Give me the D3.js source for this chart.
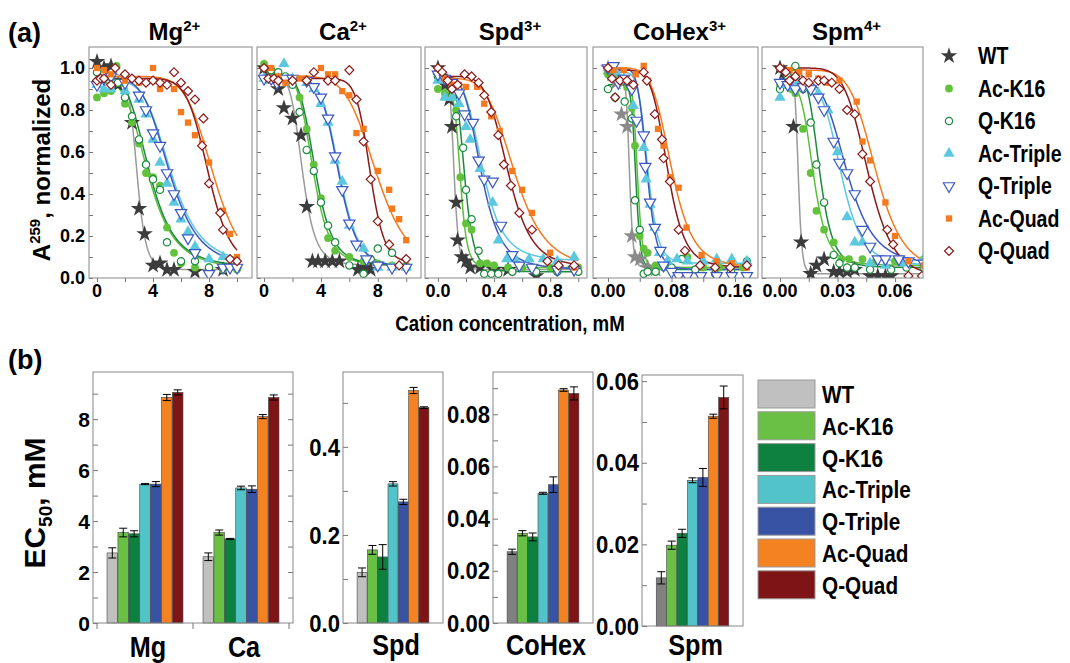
<!DOCTYPE html>
<html>
<head>
<meta charset="utf-8">
<script src="https://cdn.jsdelivr.net/npm/d3@7"></script>
<style>
  body { margin: 0; background: #fff; }
  svg { display: block; }
  text { font-family: "Liberation Sans", Arial, sans-serif; font-weight: bold; fill: #000; }
</style>
</head>
<body>
<svg id="chart" width="1070" height="663"></svg>
<script>
// ---- shared series info ----
const series = ['WT', 'Ac-K16', 'Q-K16', 'Ac-Triple', 'Q-Triple', 'Ac-Quad', 'Q-Quad'];
const lineColors = ['#9a9a9a', '#5cbf3a', '#1a8a3c', '#5cc8e0', '#3a58c0', '#f47a20', '#8b1a1a'];
const markColors = ['#3c3c3c', '#62c23c', '#1a8a3c', '#5cc8e0', '#3a58c0', '#f47a20', '#8b1a1a'];
const barColors = ['#c0c0c0', '#6abf45', '#0e8040', '#52c3c9', '#3953a4', '#f58220', '#7f1416'];

// ---- panel (a): titration curves ----
const aCations = ['Mg', 'Ca', 'Spd', 'CoHex', 'Spm'];
const aCharges = ['2+', '2+', '3+', '3+', '4+'];
const aXTicks = [[0, 4, 8], [0, 4, 8], [0, 0.4, 0.8], [0, 0.08, 0.16], [0, 0.03, 0.06]];
const aXMinor = [2, 2, 0.2, 0.04, 0.015];
const aXFormat = ['d', 'd', '.1f', '.2f', '.2f'];
const aCurveEnd = [10, 10, 1.0, 0.175, 0.075];
const aYTicks = [0, 0.2, 0.4, 0.6, 0.8, 1.0];
const starColors = ['#3c3c3c', '#3c3c3c', '#3c3c3c', '#8a8a8a', '#3c3c3c'];

const mgPts = [
  [[0,1.03],[0.5,1.0],[1,1.01],[1.5,0.92],[2.5,0.74],[3,0.33],[3.4,0.21],[4,0.06],[4.5,0.07],[5,0.04],[5.5,0.04],[7,0.03],[9,0.04]],
  [[0,0.86],[0.5,0.88],[1,0.89],[1.4,1.01],[2,0.83],[2.5,0.74],[3,0.64],[3.5,0.5],[4,0.48],[4.5,0.44],[5,0.24],[5.5,0.12],[6,0.07],[7,0.05],[8,0.05],[9,0.04],[10,0.04]],
  [[0,0.98],[0.5,0.97],[1,0.96],[1.5,0.93],[2,0.86],[2.5,0.77],[3,0.66],[3.5,0.54],[4,0.47],[4.5,0.42],[5,0.17],[6,0.08],[7,0.08],[8,0.05],[9,0.05],[10,0.05]],
  [[0,0.92],[0.5,0.9],[1,0.9],[2,0.89],[3,0.85],[3.5,0.78],[4,0.66],[4.5,0.55],[5,0.45],[5.5,0.36],[6,0.28],[6.5,0.22],[7,0.15],[8,0.09],[9,0.1],[10,0.06]],
  [[0,0.92],[0.5,0.95],[1,0.96],[2,0.93],[3,0.87],[3.5,0.8],[4,0.69],[4.5,0.63],[5,0.5],[5.5,0.4],[6,0.31],[6.5,0.19],[7,0.12],[8,0.02],[9,0.05],[9.5,0.05],[10,0.05]],
  [[0,1.0],[0.5,0.99],[1,0.97],[2,0.94],[3,0.93],[4,1.0],[4.5,0.9],[5.5,0.9],[6,0.79],[6.5,0.74],[7,0.68],[7.5,0.64],[8,0.55],[9,0.32],[9.5,0.21],[10,0.1]],
  [[0,0.94],[0.25,0.95],[0.5,0.95],[1,0.92],[1.3,1.0],[2,0.97],[2.5,0.95],[3,0.94],[3.5,0.93],[4,0.94],[4.5,0.93],[5,0.92],[5.5,0.98],[6,0.93],[6.5,0.89],[7,0.85],[7.6,0.76],[7.5,0.63],[8,0.45],[8.8,0.31],[9,0.23],[9.5,0.09],[10,0.08]]
];
const caPts = [
  [[0,1.0],[0.5,0.97],[1,0.9],[1.4,0.81],[2,0.76],[2.6,0.68],[3,0.34],[3.4,0.08],[3.8,0.08],[4.3,0.08],[4.8,0.08],[5.3,0.08],[6.6,0.04],[7,0.05],[7.5,0.04]],
  [[0,1.02],[0.5,0.98],[1,0.96],[2,0.93],[2.5,0.86],[3,0.71],[3.5,0.54],[4,0.38],[4.5,0.19],[5,0.13],[6,0.1],[7,0.08],[8,0.07],[9,0.06],[10,0.06]],
  [[0,1.0],[0.5,0.99],[1,0.98],[1.5,0.96],[2,0.92],[2.5,0.79],[3,0.61],[3.5,0.51],[4,0.36],[4.5,0.25],[5,0.17],[6,0.06],[7,0.02],[7.5,0.09],[8,0.14],[9,0.12],[10,0.05]],
  [[0,0.95],[0.3,0.94],[1,0.95],[1.4,1.02],[2,0.95],[3,0.93],[3.5,0.9],[4,0.83],[4.5,0.74],[5,0.56],[5.5,0.46],[6,0.25],[7,0.14],[8,0.05],[9,0.05],[10,0.05]],
  [[0,0.95],[0.5,0.95],[0.9,0.93],[1.5,0.95],[2,0.95],[3,0.94],[3.5,0.91],[4,0.86],[4.5,0.76],[5,0.58],[5.5,0.42],[6,0.26],[6.5,0.16],[7.2,0.09],[8,0.06],[9,0.05],[10,0.05]],
  [[0,1.0],[0.5,1.0],[1,0.96],[1.5,0.93],[2.5,0.95],[3,0.95],[4,1.0],[4.5,0.97],[5,0.97],[5.5,0.89],[6,0.87],[6.5,0.69],[7,0.71],[8,0.51],[8.8,0.42],[9,0.33],[9.5,0.28],[10,0.18]],
  [[0,1.0],[0.3,0.95],[0.7,0.95],[1,0.94],[2,0.94],[3,0.94],[3.5,0.98],[4.5,0.94],[5,0.94],[6,0.99],[6.5,0.85],[7,0.65],[7.5,0.47],[8,0.27],[8.8,0.16],[9.5,0.06],[10,0.09]]
];
const spdPts = [
  [[0,1.0],[0.02,0.96],[0.05,0.92],[0.08,0.85],[0.1,0.72],[0.13,0.36],[0.14,0.18],[0.17,0.1],[0.2,0.08],[0.23,0.05],[0.3,0.05],[0.4,0.04],[0.5,0.04],[0.7,0.01]],
  [[0,0.9],[0.05,0.88],[0.1,0.86],[0.13,0.8],[0.16,0.48],[0.2,0.26],[0.24,0.23],[0.3,0.07],[0.35,0.07],[0.4,0.06],[0.5,0.05],[0.6,0.05],[0.8,0.05],[1.0,0.05]],
  [[0,0.96],[0.05,0.94],[0.1,0.9],[0.13,0.77],[0.18,0.62],[0.2,0.42],[0.24,0.28],[0.29,0.13],[0.33,0.02],[0.38,0.02],[0.43,0.02],[0.53,0.03],[0.7,0.03],[0.85,0.03],[1.0,0.03]],
  [[0,0.94],[0.05,0.86],[0.1,0.86],[0.15,0.83],[0.2,0.72],[0.23,0.66],[0.3,0.52],[0.39,0.36],[0.43,0.18],[0.49,0.09],[0.55,0.09],[0.65,0.09],[0.75,0.09],[0.85,0.08],[0.97,0.1]],
  [[0,0.97],[0.05,0.95],[0.1,0.93],[0.15,0.88],[0.19,0.78],[0.25,0.74],[0.29,0.56],[0.33,0.47],[0.39,0.46],[0.45,0.25],[0.53,0.11],[0.58,0.06],[0.67,0.05],[0.85,0.04],[0.97,0.04]],
  [[0,1.0],[0.05,0.95],[0.1,0.92],[0.15,0.92],[0.2,0.91],[0.28,0.91],[0.33,0.83],[0.38,0.77],[0.44,0.7],[0.53,0.51],[0.6,0.42],[0.67,0.31],[0.8,0.12],[0.86,0.06],[0.97,0.05]],
  [[0,1.0],[0.03,0.98],[0.07,0.94],[0.1,0.9],[0.14,0.92],[0.19,0.97],[0.24,0.96],[0.29,0.93],[0.33,0.87],[0.38,0.79],[0.43,0.68],[0.47,0.54],[0.52,0.44],[0.58,0.31],[0.67,0.23],[0.78,0.08],[0.86,0.06],[0.97,0.06]]
];
const cohexPts = [
  [[0,1.0],[0.005,0.97],[0.01,0.93],[0.017,0.78],[0.024,0.72],[0.03,0.2],[0.034,0.1],[0.04,0.09],[0.05,0.05],[0.06,0.04]],
  [[0,0.97],[0.01,0.95],[0.015,0.93],[0.024,0.91],[0.03,0.81],[0.034,0.63],[0.04,0.2],[0.045,0.14],[0.05,0.12],[0.06,0.06],[0.07,0.05],[0.08,0.05],[0.1,0.1],[0.12,0.05],[0.14,0.05],[0.17,0.05]],
  [[0,0.9],[0.009,0.86],[0.021,0.84],[0.03,0.76],[0.034,0.37],[0.04,0.23],[0.045,0.02],[0.05,0.03],[0.06,0.03],[0.08,0.05],[0.093,0.09],[0.11,0.04],[0.135,0.02],[0.155,0.03],[0.175,0.08]],
  [[0,1.0],[0.01,0.98],[0.02,0.95],[0.032,0.82],[0.045,0.62],[0.048,0.47],[0.053,0.35],[0.059,0.24],[0.065,0.12],[0.075,0.08],[0.087,0.09],[0.1,0.08],[0.12,0.08],[0.137,0.09],[0.156,0.09],[0.175,0.08]],
  [[0,1.0],[0.007,1.01],[0.013,0.93],[0.02,0.95],[0.03,0.9],[0.036,0.75],[0.045,0.68],[0.047,0.53],[0.053,0.36],[0.059,0.24],[0.066,0.13],[0.07,0.06],[0.08,0.03],[0.089,0.01],[0.1,0.01],[0.117,0.01],[0.137,0.01],[0.156,0.01],[0.175,0.01]],
  [[0,1.0],[0.007,0.99],[0.02,0.99],[0.035,0.97],[0.045,1.01],[0.05,0.94],[0.063,0.71],[0.07,0.63],[0.078,0.48],[0.089,0.43],[0.099,0.24],[0.118,0.11],[0.137,0.08],[0.156,0.07],[0.175,0.05]],
  [[0,1.0],[0.005,0.95],[0.009,0.86],[0.015,0.94],[0.024,0.94],[0.032,0.92],[0.045,0.98],[0.049,0.94],[0.059,0.78],[0.068,0.66],[0.07,0.57],[0.078,0.46],[0.089,0.23],[0.097,0.13],[0.116,0.06],[0.135,0.05],[0.154,0.05],[0.175,0.06]]
];
const spmPts = [
  [[0,1.0],[0.002,0.98],[0.004,0.95],[0.007,0.72],[0.011,0.17],[0.016,0.02],[0.019,0.06],[0.023,0.09],[0.028,0.03],[0.031,0.03],[0.035,0.03],[0.039,0.04],[0.047,0.01],[0.051,0.01],[0.055,0.01],[0.058,0.01]],
  [[0,0.92],[0.003,0.92],[0.006,0.9],[0.008,0.88],[0.012,0.71],[0.016,0.5],[0.019,0.32],[0.023,0.23],[0.028,0.17],[0.032,0.09],[0.036,0.09],[0.043,0.09],[0.05,0.08],[0.06,0.08],[0.075,0.09]],
  [[0,0.9],[0.004,0.96],[0.008,1.01],[0.012,0.9],[0.016,0.74],[0.019,0.54],[0.023,0.36],[0.028,0.11],[0.031,0.07],[0.035,0.05],[0.039,0.05],[0.047,0.04],[0.058,0.04],[0.066,0.05],[0.075,0.05]],
  [[0,0.86],[0.003,0.92],[0.006,0.91],[0.01,0.93],[0.015,0.91],[0.02,0.88],[0.025,0.8],[0.03,0.6],[0.035,0.29],[0.039,0.17],[0.043,0.17],[0.047,0.07],[0.055,0.06],[0.065,0.07],[0.075,0.09]],
  [[0,0.93],[0.004,0.92],[0.008,0.9],[0.012,0.91],[0.016,0.9],[0.02,0.86],[0.023,0.8],[0.028,0.65],[0.031,0.55],[0.035,0.5],[0.039,0.4],[0.043,0.23],[0.047,0.15],[0.051,0.09],[0.055,0.09],[0.062,0.09],[0.067,0.08],[0.075,0.07]],
  [[0,1.0],[0.005,0.99],[0.01,0.98],[0.015,0.97],[0.02,0.95],[0.025,0.93],[0.031,0.94],[0.04,0.84],[0.043,0.65],[0.047,0.56],[0.055,0.36],[0.06,0.2],[0.067,0.08],[0.075,0.06]],
  [[0,1.0],[0.003,0.98],[0.005,0.94],[0.008,0.96],[0.012,0.94],[0.015,0.93],[0.02,0.94],[0.023,0.94],[0.027,0.93],[0.031,0.9],[0.035,0.8],[0.039,0.78],[0.043,0.59],[0.047,0.46],[0.056,0.23],[0.059,0.16],[0.067,0.01],[0.074,0.01]]
];

// fitted Hill curves: [top, bottom, midpoint, steepness]
const mgFit = [[0.97,0.04,2.85,9],[0.93,0.04,3.7,4],[0.96,0.05,3.75,4.2],[0.94,0.06,5.3,5],[0.95,0.05,5.2,5],[0.96,0.03,8.3,8],[0.95,0.05,7.95,10]];
const caFit = [[0.96,0.06,2.7,6],[0.97,0.06,3.45,6],[0.97,0.06,3.6,6],[0.95,0.05,5.3,8],[0.95,0.05,5.25,8],[0.96,0.04,7.9,7],[0.95,0.07,7.45,15]];
const spdFit = [[0.97,0.04,0.115,7],[0.9,0.05,0.16,7],[0.95,0.03,0.19,6],[0.95,0.08,0.32,4.5],[0.96,0.04,0.31,4.5],[0.95,0.04,0.55,5],[0.96,0.05,0.5,6]];
const cohexFit = [[0.97,0.05,0.027,12],[0.95,0.05,0.037,12],[0.92,0.04,0.035,12],[0.98,0.07,0.05,8],[1.0,0.04,0.049,8],[1.0,0.05,0.08,6],[0.99,0.05,0.075,7]];
const spmFit = [[0.98,0.02,0.0095,10],[0.92,0.06,0.0175,5],[0.99,0.05,0.0205,6],[0.93,0.06,0.032,6],[0.95,0.06,0.035,5],[0.99,0.03,0.05,7],[1.0,0.0,0.046,7]];

// ---- panel (b): EC50 bars ----
const bGroups = [['Mg', 'Ca'], ['Spd'], ['CoHex'], ['Spm']];
const mgEC = [2.75, 3.55, 3.5, 5.45, 5.45, 8.85, 9.05];
const mgErr = [0.2, 0.17, 0.12, 0.02, 0.1, 0.12, 0.1];
const caEC = [2.6, 3.55, 3.3, 5.3, 5.25, 8.1, 8.85];
const caErr = [0.15, 0.1, 0.02, 0.07, 0.13, 0.08, 0.1];
const spdEC = [0.115, 0.166, 0.15, 0.316, 0.275, 0.528, 0.489];
const spdErr = [0.01, 0.01, 0.028, 0.005, 0.006, 0.007, 0.002];
const cohexEC = [0.0273, 0.0344, 0.033, 0.0497, 0.053, 0.0893, 0.088];
const cohexErr = [0.001, 0.001, 0.0015, 0.0004, 0.003, 0.0005, 0.0025];
const spmEC = [0.0118, 0.0198, 0.0227, 0.0357, 0.0364, 0.0514, 0.056];
const spmErr = [0.0015, 0.001, 0.001, 0.0006, 0.0022, 0.0005, 0.0028];
const bWTColors = ['#c0c0c0', '#c0c0c0', '#808080', '#808080'];
const bYMax = [9.85, 0.57, 0.0962, 0.0615];
const bYStep = [1, 0.1, 0.01, 0.01];
const bYFormat = ['d', '.1f', '.2f', '.2f'];

const svg = d3.select('#chart');

// the original lettering is a condensed bold face: squeeze it horizontally
const sq = k => ` scale(${k},1)`;

// symbol setup (same order as series)
const symTypes = [d3.symbolStar, d3.symbolCircle, d3.symbolCircle, d3.symbolTriangle, d3.symbolTriangle, d3.symbolSquare, d3.symbolSquare];
const symRot = [0, 0, 0, 0, 180, 0, 45];
const symFilled = [true, true, false, true, false, true, false];
const symSize = [85, 48, 42, 55, 55, 40, 40];

function drawMarker(sel, i, color) {
  sel.attr('d', d3.symbol().type(symTypes[i]).size(symSize[i]))
    .attr('fill', symFilled[i] ? color : '#fff')
    .attr('stroke', symFilled[i] ? 'none' : color)
    .attr('stroke-width', 1.2);
}

/**
 * Panel (a)
 */
const aFrames = [[89, 252], [257, 421], [425, 587], [593, 758], [762, 923]];
const aDomains = [[-0.571, 11.07], [-0.496, 11.04], [-0.092, 1.062], [-0.0189, 0.189], [-0.0094, 0.0746]];
const aPoints = [mgPts, caPts, spdPts, cohexPts, spmPts];
const aFits = [mgFit, caFit, spdFit, cohexFit, spmFit];
const yA = d3.scaleLinear().domain([0, 1.1]).range([278, 47]);

aCations.forEach((cat, p) => {
  const [x0, x1] = aFrames[p];
  const x = d3.scaleLinear().domain(aDomains[p]).range([x0, x1]);
  const g = svg.append('g').attr('class', 'panel-a');

  svg.append('clipPath').attr('id', `clipA${p}`)
    .append('rect').attr('x', x0).attr('y', yA(1.1)).attr('width', x1 - x0).attr('height', yA(0) - yA(1.1));

  // inward y ticks every 0.1
  g.append('g').attr('transform', `translate(${x0},0)`)
    .call(d3.axisLeft(yA).tickValues(d3.range(0, 11).map(k => k / 10)).tickSize(-4).tickFormat(''))
    .call(s => s.select('.domain').remove())
    .call(s => s.selectAll('line').attr('stroke', '#777'));

  if (p === 0) {
    g.append('g').selectAll('text').data(aYTicks).join('text')
      .attr('x', x0 - 4).attr('y', d => yA(d)).attr('dy', '0.36em')
      .attr('text-anchor', 'end').attr('font-size', 18)
      .text(d => d3.format('.1f')(d));
  }

  // x ticks
  const step = aXMinor[p];
  const minor = d3.range(0, Math.floor(aDomains[p][1] / step + 1e-6) + 1).map(k => k * step);
  g.append('g').attr('transform', `translate(0,${yA(0)})`)
    .call(d3.axisBottom(x).tickValues(minor).tickSize(4).tickFormat(''))
    .call(s => s.select('.domain').remove())
    .call(s => s.selectAll('line').attr('stroke', '#777'));
  g.append('g').selectAll('text').data(aXTicks[p]).join('text')
    .attr('x', d => x(d)).attr('y', 297)
    .attr('text-anchor', 'middle').attr('font-size', 18)
    .text(d => d3.format(aXFormat[p])(d));

  // title
  const t = g.append('text').attr('x', (x0 + x1) / 2 + 4).attr('y', 40)
    .attr('text-anchor', 'middle').attr('font-size', 24).text(cat);
  t.append('tspan').attr('dy', -9).attr('font-size', 15).text(aCharges[p]);

  // fitted curves
  const plot = g.append('g').attr('clip-path', `url(#clipA${p})`);
  const line = d3.line().x(d => x(d[0])).y(d => yA(d[1]));
  aFits[p].forEach((f, i) => {
    const [top, bot, mid, n] = f;
    const xs = d3.range(0, 201).map(k => aCurveEnd[p] * k / 200);
    const pts = xs.map(v => [v, bot + (top - bot) / (1 + Math.pow(v / mid, n))]);
    plot.append('path').datum(pts)
      .attr('d', line).attr('fill', 'none')
      .attr('stroke', lineColors[i]).attr('stroke-width', 1.5);
  });

  // data points
  aPoints[p].forEach((pts, i) => {
    const col = i === 0 ? starColors[p] : markColors[i];
    plot.append('g').selectAll('path').data(pts).join('path')
      .attr('transform', d => `translate(${x(d[0])},${yA(d[1])}) rotate(${symRot[i]})`)
      .call(s => drawMarker(s, i, col));
  });

  // frame
  g.append('rect').attr('x', x0).attr('y', yA(1.1))
    .attr('width', x1 - x0).attr('height', yA(0) - yA(1.1))
    .attr('fill', 'none').attr('stroke', '#888').attr('stroke-width', 1);
});

// panel (a) labels
svg.append('text').attr('x', 8).attr('y', 42).attr('font-size', 27).text('(a)');
const yLabA = svg.append('text').attr('transform', 'translate(50,170) rotate(-90)')
  .attr('text-anchor', 'middle').attr('font-size', 24).text('A');
yLabA.append('tspan').attr('dy', -10).attr('font-size', 15).text('259');
yLabA.append('tspan').attr('dy', 10).text(', normalized');
svg.append('text').attr('transform', 'translate(510,331)' + sq(0.85))
  .attr('text-anchor', 'middle').attr('font-size', 22).text('Cation concentration, mM');

// panel (a) legend
const legA = svg.append('g').selectAll('g').data(series).join('g')
  .attr('transform', (d, i) => `translate(949,${56 + i * 32.5})`);
legA.append('path')
  .attr('transform', (d, i) => `rotate(${symRot[i]})`)
  .each(function (d, i) { drawMarker(d3.select(this), i, markColors[i]); });
legA.append('text').attr('transform', 'translate(29,8)' + sq(0.85))
  .attr('font-size', 23).text(d => d);

/**
 * Panel (b)
 */
const bFrames = [[93, 293, 372, 623], [343, 443, 372, 623], [493, 593, 372, 623], [642, 743, 375, 626]];
const bValues = [[mgEC, caEC], [spdEC], [cohexEC], [spmEC]];
const bErrors = [[mgErr, caErr], [spdErr], [cohexErr], [spmErr]];
const bTickFont = [21, 24, 24, 24];
const bTickSq = [1, 0.92, 0.92, 0.92];

bGroups.forEach((groups, p) => {
  const [x0, x1, yt, yb] = bFrames[p];
  const y = d3.scaleLinear().domain([0, bYMax[p]]).range([yb, yt]);
  const g = svg.append('g').attr('class', 'panel-b');
  const multi = groups.length > 1;
  const xg = d3.scaleBand().domain(groups).range(multi ? [x0 + 4, x1 - 4] : [x0, x1]);
  const xs = d3.scaleBand().domain(series).range([0, xg.bandwidth()])
    .paddingInner(0.03).paddingOuter(multi ? 0.92 : 1.37);

  // y ticks
  const nT = Math.floor(bYMax[p] / bYStep[p] + 1e-6);
  const tv = d3.range(0, nT + 1).map(k => k * bYStep[p]);
  g.append('g').attr('transform', `translate(${x0},0)`)
    .call(d3.axisLeft(y).tickValues(tv).tickSize(-5).tickFormat(''))
    .call(s => s.select('.domain').remove())
    .call(s => s.selectAll('line').attr('stroke', '#777'));
  if (multi) {
    g.append('g').attr('transform', `translate(${x1},0)`)
      .call(d3.axisRight(y).tickValues(tv.slice(1)).tickSize(-5).tickFormat(''))
      .call(s => s.select('.domain').remove())
      .call(s => s.selectAll('line').attr('stroke', '#777'));
    // group separators on x
    const sep = groups.map(d => xg(d)).concat([xg(groups[groups.length - 1]) + xg.bandwidth()]);
    g.append('g').selectAll('line').data(sep).join('line')
      .attr('x1', d => d).attr('x2', d => d).attr('y1', yb).attr('y2', yb + 6)
      .attr('stroke', '#777');
  }
  g.append('g').selectAll('text').data(tv.filter((d, k) => k % 2 === 0)).join('text')
    .attr('transform', d => `translate(${x0 - 3},${y(d)})` + sq(bTickSq[p]))
    .attr('dy', '0.36em')
    .attr('text-anchor', 'end').attr('font-size', bTickFont[p])
    .text(d => d3.format(bYFormat[p])(d));

  groups.forEach((grp, gi) => {
    const vals = bValues[p][gi];
    const errs = bErrors[p][gi];
    const gx = xg(grp);
    const cols = barColors.map((c, i) => i === 0 ? bWTColors[p] : c);
    g.append('g').selectAll('rect').data(vals).join('rect')
      .attr('x', (d, i) => gx + xs(series[i])).attr('width', xs.bandwidth())
      .attr('y', d => y(d)).attr('height', d => yb - y(d))
      .attr('fill', (d, i) => cols[i]).attr('stroke', '#444').attr('stroke-width', 0.6);
    const eb = g.append('g').attr('stroke', '#000').attr('stroke-width', 1);
    vals.forEach((v, i) => {
      const cx = gx + xs(series[i]) + xs.bandwidth() / 2;
      const e = errs[i];
      eb.append('line').attr('x1', cx).attr('x2', cx).attr('y1', y(v - e)).attr('y2', y(v + e));
      [v - e, v + e].forEach(w => eb.append('line')
        .attr('x1', cx - 4).attr('x2', cx + 4).attr('y1', y(w)).attr('y2', y(w)));
    });
    g.append('text')
      .attr('transform', `translate(${gx + xg.bandwidth() / 2 + 3},${multi ? 657 : 655})` + sq(0.87))
      .attr('text-anchor', 'middle').attr('font-size', 29).text(grp);
  });

  g.append('rect').attr('x', x0).attr('y', yt).attr('width', x1 - x0).attr('height', yb - yt)
    .attr('fill', 'none').attr('stroke', '#888').attr('stroke-width', 1);
});

svg.append('text').attr('x', 8).attr('y', 369).attr('font-size', 27).text('(b)');
const yLabB = svg.append('text').attr('transform', 'translate(45,503) rotate(-90)')
  .attr('text-anchor', 'middle').attr('font-size', 30).text('EC');
yLabB.append('tspan').attr('dy', 7).attr('font-size', 19).text('50');
yLabB.append('tspan').attr('dy', -7).text(', mM');

// panel (b) legend
const legB = svg.append('g').selectAll('g').data(series).join('g')
  .attr('transform', (d, i) => `translate(758,${380 + i * 31.8})`);
legB.append('rect').attr('width', 57).attr('height', 28)
  .attr('fill', (d, i) => barColors[i]).attr('stroke', '#999').attr('stroke-width', 1);
legB.append('text').attr('transform', 'translate(64,23)' + sq(0.865))
  .attr('font-size', 24).text(d => d);
</script>
</body>
</html>
